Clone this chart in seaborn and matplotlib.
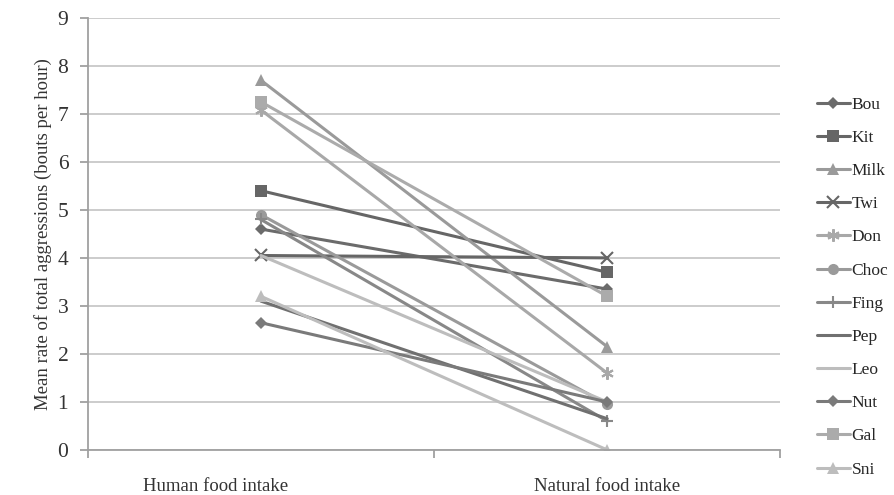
import pandas as pd
import numpy as np
import seaborn as sns
import matplotlib.transforms as mtransforms
from matplotlib import pyplot as plt

conditions = ["Human food intake", "Natural food intake"]
animals = ["Bou", "Kit", "Milk", "Twi", "Don", "Choc", "Fing", "Pep", "Leo", "Nut", "Gal", "Sni"]
human_food = [4.6, 5.4, 7.7, 4.05, 7.08, 4.9, 4.8, 3.1, 4.05, 2.65, 7.25, 3.2]
natural_food = [3.35, 3.7, 2.15, 4.0, 1.6, 0.95, 0.6, 0.65, 1.0, 1.0, 3.2, 0.0]

# greyscale look of the original figure
colours = ["#6b6b6b", "#666666", "#9a9a9a", "#666666", "#a8a8a8", "#9a9a9a",
           "#888888", "#707070", "#bdbdbd", "#7a7a7a", "#ababab", "#bdbdbd"]
markers = ["D", "s", "^", "x", (6, 2, 0), "o", "+", "", "", "D", "s", "^"]
sizes = [6, 8, 8, 8, 9, 8, 9, 0, 0, 6, 8, 8]

rows = []
for a, h, n in zip(animals, human_food, natural_food):
    rows.append({"animal": a, "condition": conditions[0], "rate": h})
    rows.append({"animal": a, "condition": conditions[1], "rate": n})
df = pd.DataFrame(rows)

sns.set_style("white")
plt.rcParams["font.family"] = ["Liberation Serif", "DejaVu Serif"]

fig = plt.figure(figsize=(8.95, 4.95), dpi=100)
ax = fig.add_axes([0.098, 0.091, 0.774, 0.873])

for i, a in enumerate(animals):
    sub = df[df["animal"] == a]
    stroke = markers[i] in ("x", "+") or isinstance(markers[i], tuple)
    sns.lineplot(data=sub, x="condition", y="rate", ax=ax, color=colours[i],
                 marker=markers[i] if markers[i] != "" else None,
                 markersize=sizes[i], markeredgewidth=1.5 if stroke else 0,
                 markeredgecolor=colours[i], linewidth=2.2, label=a)

ax.set_xlim(-0.5, 1.5)
ax.set_ylim(0, 9)
ax.set_yticks(range(0, 10))
ax.yaxis.grid(True, color="#c8c8c8", linewidth=1.3)
ax.xaxis.grid(False)
ax.set_xlabel("")
ax.set_ylabel("Mean rate of total aggressions (bouts per hour)", fontsize=13.5, color="#333333")

for s in ["top", "right"]:
    ax.spines[s].set_visible(False)
for s in ["left", "bottom"]:
    ax.spines[s].set_color("#a0a0a0")
    ax.spines[s].set_linewidth(1.3)

ax.set_xticks([0, 1])
ax.set_xticklabels(conditions)
ax.set_xticks([-0.5, 0.5, 1.5], minor=True)
ax.tick_params(axis="x", which="major", length=0, pad=20, labelsize=13.5, labelcolor="#333333")
ax.tick_params(axis="x", which="minor", length=6, direction="out", color="#a0a0a0", width=1.3, bottom=True)
ax.tick_params(axis="y", length=6, direction="out", color="#a0a0a0", width=1.3, left=True,
               labelsize=15.5, labelcolor="#333333", pad=8)

# the first category label sits a little left of its column in the original
shift = mtransforms.ScaledTranslation(-0.45, 0, fig.dpi_scale_trans)
lbl = ax.get_xticklabels()[0]
lbl.set_transform(lbl.get_transform() + shift)

handles, labels = ax.get_legend_handles_labels()
if ax.legend_:
    ax.legend_.remove()
fig.legend(handles, labels, loc="center left", bbox_to_anchor=(0.905, 0.42), frameon=False,
           fontsize=12.5, handlelength=1.9, labelspacing=0.98, handletextpad=0.1, borderaxespad=0)

fig.savefig("out.png", dpi=100)
